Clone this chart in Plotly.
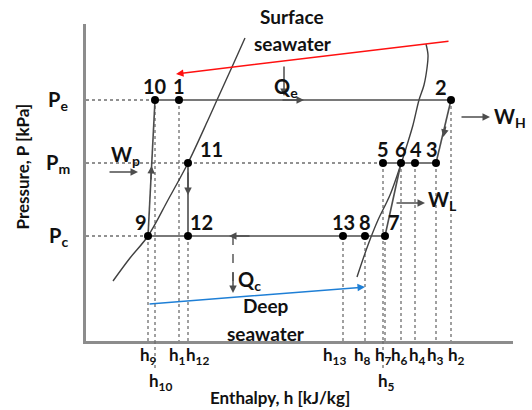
import plotly.graph_objects as go

# ---------------- data (arbitrary enthalpy / pressure units) ----------------
states = ["1", "2", "3", "4", "5", "6", "7", "8", "9", "10", "11", "12", "13"]
h_state = [93, 365, 350, 329, 297, 315, 299, 279, 62, 69, 102, 102, 257]
Pe, Pm, Pc = 241, 178, 105
P_state = [Pe, Pe, Pm, Pm, Pm, Pm, Pc, Pc, Pc, Pe, Pm, Pc, Pc]
p_labels = ["P<sub>e</sub>", "P<sub>m</sub>", "P<sub>c</sub>"]
p_levels = [Pe, Pm, Pc]

# saturation dome
h_liq = [27, 44, 62, 82, 102, 122, 131, 146, 159]
P_liq = [60, 83, 105, 141, 178, 221, 241, 274, 303]
h_vap = [340, 342, 341, 338, 333, 327, 321, 315, 304, 292, 282, 271]
P_vap = [297, 286, 273, 256, 241, 216, 196, 177, 146, 121, 96, 64]

# seawater streams
h_surface = [364, 90]
P_surface = [300, 267]
h_deep = [62, 279]
P_deep = [37, 54]

S = {s: (h, p) for s, h, p in zip(states, h_state, P_state)}

XMAX, YMAX = 427, 317
DARK = "#4d4d4d"
DOT = "#6e6e6e"
FONT = "Lato"

fig = go.Figure()

def line(xs, ys, color=DARK, width=1.6, dash="solid", shape="linear"):
    fig.add_trace(go.Scatter(x=xs, y=ys, mode="lines", hoverinfo="skip",
                             line=dict(color=color, width=width, dash=dash, shape=shape),
                             showlegend=False))

# dotted horizontal guide lines
line([0, S["10"][0]], [Pe, Pe], DOT, 1.3, "dot")
line([0, S["5"][0]], [Pm, Pm], DOT, 1.3, "dot")
line([0, S["9"][0]], [Pc, Pc], DOT, 1.3, "dot")

# dotted vertical guide lines
for s in states:
    if s == "11":
        continue
    h, p = S[s]
    line([h, h], [p, 0], DOT, 1.3, "dot")

# saturation dome
line(h_liq, P_liq, "#404040", 1.4, shape="spline")
line(h_vap, P_vap, "#404040", 1.4, shape="spline")

# cycle processes
line([S["10"][0], S["2"][0]], [Pe, Pe])
line([S["2"][0], S["3"][0]], [Pe, Pm])
line([S["5"][0], S["3"][0]], [Pm, Pm])
line([S["6"][0], S["7"][0]], [Pm, Pc])
line([S["9"][0], S["7"][0]], [Pc, Pc])
line([S["9"][0], S["10"][0]], [Pc, Pe])
line([S["11"][0], S["12"][0]], [Pm, Pc])

# Qc dashed arrow shaft
qc_h = 147
line([qc_h, qc_h], [Pc, 50], DARK, 1.4, "dash")

# state points
fig.add_trace(go.Scatter(x=h_state, y=P_state, mode="markers", hoverinfo="skip",
                         marker=dict(color="black", size=8), showlegend=False))

ann = []

def arrow(x0, y0, x1, y1, color=DARK, width=1.5, size=1.0):
    ann.append(dict(x=x1, y=y1, ax=x0, ay=y0, xref="x", yref="y", axref="x", ayref="y",
                    text="", showarrow=True, arrowhead=2, arrowsize=size,
                    arrowwidth=width, arrowcolor=color, standoff=0, startstandoff=0))

def text(x, y, t, size=18, xs=0, ys=0, xref="x", yref="y", angle=0):
    ann.append(dict(x=x, y=y, xref=xref, yref=yref, text="<b>" + t + "</b>",
                    xanchor="center", yanchor="middle",
                    showarrow=False, xshift=xs, yshift=ys, textangle=angle,
                    font=dict(family=FONT, size=size, color="#111111")))

# seawater arrows
arrow(h_surface[0], P_surface[0], h_surface[1], P_surface[1], "#ff1010", 1.5)
arrow(h_deep[0], P_deep[0], h_deep[1], P_deep[1], "#1e7fd6", 1.5)

# direction arrows on processes
arrow(195, Pe, 218, Pe)                       # along Pe
arrow(198, 276, 198, 245)                     # Qe
arrow(374, 224, 404, 224)                     # W_H
arrow(360, 216, 357.2, 204)                   # 2 -> 3
arrow(309, 138, 339, 138)                     # W_L
arrow(22, 169, 52, 169)                       # W_p
arrow(64.8, 160, 65.6, 175)                   # 9 -> 10
arrow(102, 170, 102, 146)                     # 11 -> 12
arrow(165, Pc, 143, Pc)                       # along Pc
arrow(qc_h, 70, qc_h, 48)                     # Qc

# state labels (xshift, yshift in px)
lab_off = {"1": (0, 14), "2": (-10, 13), "3": (-4, 14), "4": (1, 14), "5": (0, 14),
           "6": (0, 14), "7": (9, 14), "8": (0, 14), "9": (-7, 14), "10": (0, 14),
           "11": (23, 14), "12": (13, 14), "13": (0, 14)}
for s in states:
    h, p = S[s]
    dx, dy = lab_off[s]
    text(h, p, s, 20, dx, dy)

# enthalpy labels below axis
h_off = {"9": (0, -15), "10": (5, -41), "1": (-2, -15), "12": (9, -15), "13": (-9, -15),
         "8": (-3, -15), "7": (-2, -15), "6": (-2, -15), "4": (2, -15), "3": (-1, -15),
         "2": (5, -15), "5": (3, -41)}
for s, (dx, dy) in h_off.items():
    text(S[s][0], 0, "h<sub>" + s + "</sub>", 17, dx, dy)

# longer dotted drops for h10 and h5
shapes = []
for s in ["10", "5"]:
    shapes.append(dict(type="line", xref="x", yref="paper", x0=S[s][0], x1=S[s][0],
                       y0=0, y1=-30 / YMAX, line=dict(color=DOT, width=1.3, dash="dot")))

# pressure labels
for t, p in zip(p_labels, p_levels):
    text(-28 / XMAX, p, t, 20, xref="paper")

# heat / work labels
text(200, 241, "Q<sub>e</sub>", 20, 0, 13)
text(404, 224, "W<sub>H</sub>", 20, 20, 0)
text(339, 138, "W<sub>L</sub>", 20, 17, 3)
text(52, 169, "W<sub>p</sub>", 20, -13, 17)
text(qc_h, Pc, "Q<sub>c</sub>", 20, 16, -44)

# seawater labels
text(206, 324 / YMAX, "Surface", 19, yref="paper")
text(207, 298, "seawater", 19)
text(180, 36, "Deep", 19)
text(180, 8, "seawater", 19)

# axis titles
text(0.5, -56 / YMAX, "Enthalpy, h [kJ/kg]", 17, -20, 0, xref="paper", yref="paper")
text(-61 / XMAX, 0.5, "Pressure, P [kPa]", 17, -3, 16, xref="paper", yref="paper", angle=-90)

fig.update_layout(
    width=532, height=410,
    margin=dict(l=86, r=19, t=24, b=69, autoexpand=False),
    plot_bgcolor="white", paper_bgcolor="white",
    annotations=ann, shapes=shapes,
    xaxis=dict(range=[0, XMAX], showgrid=False, zeroline=False, showticklabels=False,
               showline=True, linecolor="#8c8c8c", linewidth=2.5, ticks=""),
    yaxis=dict(range=[0, YMAX], showgrid=False, zeroline=False, showticklabels=False,
               showline=True, linecolor="#8c8c8c", linewidth=2.5,
               tickvals=p_levels, ticks="inside", ticklen=3, tickcolor="#8c8c8c"),
)

fig.write_html("out.html", config={"displayModeBar": False},
               post_script="document.body.style.margin='0';document.body.style.overflow='hidden';")
